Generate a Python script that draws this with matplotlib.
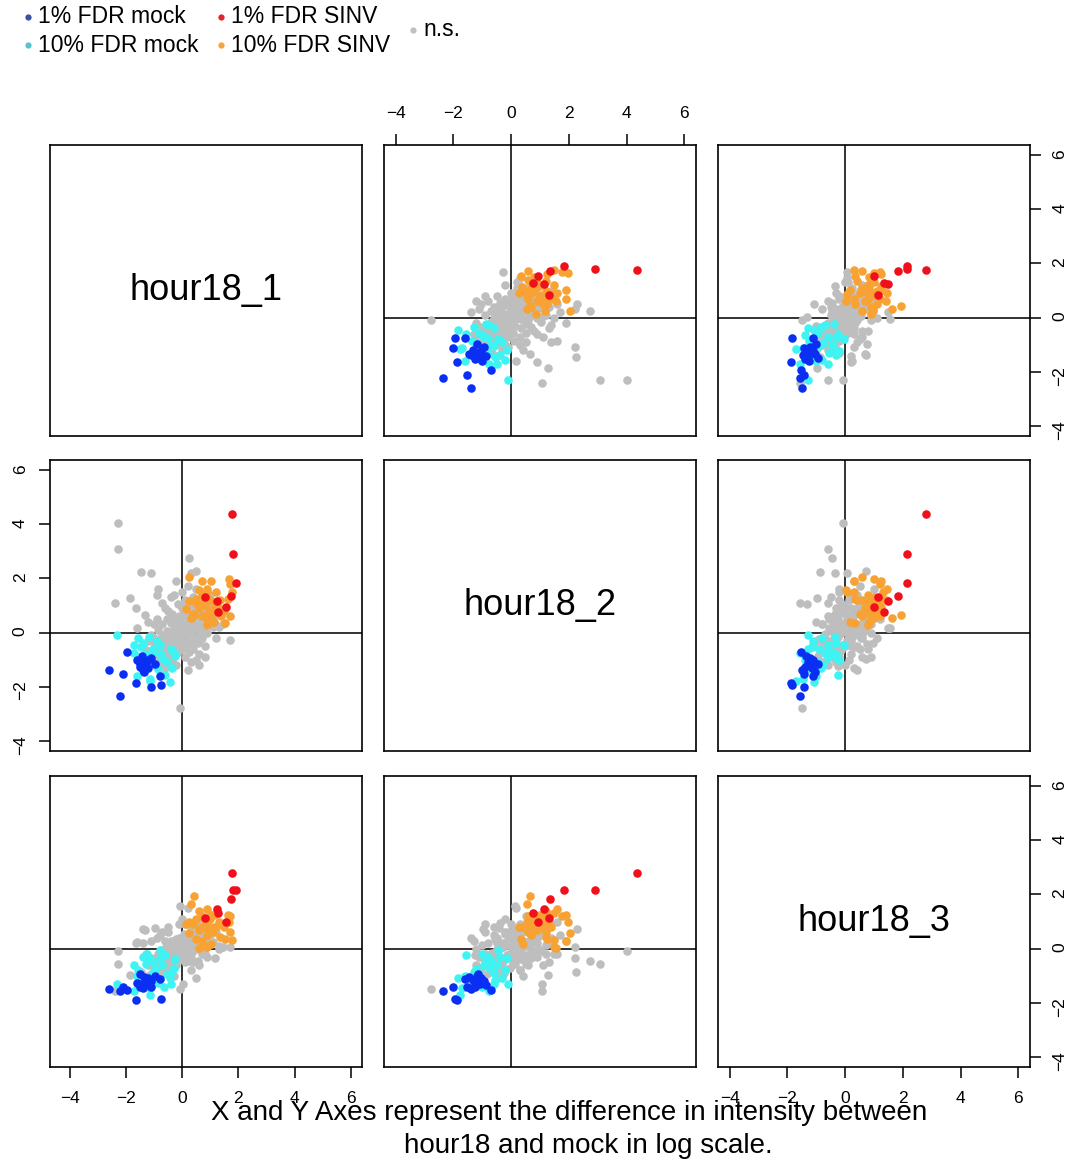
import matplotlib.pyplot as plt
from matplotlib.lines import Line2D

plt.rcParams['font.family'] = ['Liberation Sans', 'DejaVu Sans']

names = ['hour18_1', 'hour18_2', 'hour18_3']
ticks = [-4, -2, 0, 2, 4, 6]

# every point: (hour18_1, hour18_2, hour18_3), log difference to mock
ns = [
    (-1.10, -0.85, -0.95), (-0.95, -1.05, -0.70), (-0.90, -0.60, -0.85), (-0.85, -0.80, -0.55), (-0.80, -0.40, -0.75),
    (-0.75, -0.95, -0.40), (-0.70, -0.55, -0.65), (-0.65, -0.30, -0.50), (-0.60, -0.75, -0.30), (-0.55, -0.45, -0.60),
    (-0.50, -0.20, -0.35), (-0.45, -0.65, -0.15), (-0.40, -0.35, -0.45), (-0.35, -0.10, -0.25), (-0.30, -0.50, -0.05),
    (-0.25, -0.25, -0.35), (-0.20, 0.05, -0.15), (-0.15, -0.40, 0.05), (-0.10, -0.15, -0.25), (-0.05, 0.15, -0.05),
    (0.00, -0.30, 0.10), (0.05, 0.00, -0.15), (0.10, 0.25, 0.05), (0.15, -0.15, 0.25), (0.20, 0.10, -0.05),
    (0.25, 0.40, 0.15), (0.30, 0.00, 0.35), (0.35, 0.25, 0.05), (0.40, 0.55, 0.25), (0.45, 0.15, 0.45),
    (0.50, 0.40, 0.15), (0.55, 0.70, 0.35), (0.60, 0.30, 0.55), (0.65, 0.55, 0.25), (0.70, 0.85, 0.45),
    (0.75, 0.45, 0.65), (0.80, 0.70, 0.35), (0.85, 1.00, 0.55), (0.90, 0.60, 0.75), (1.00, 0.85, 0.50),
    (-1.20, -0.30, -0.60), (-1.00, -0.20, -0.40), (-0.85, 0.10, -0.30), (-0.70, 0.30, -0.20), (-0.55, 0.05, 0.10),
    (-0.40, 0.35, -0.05), (-0.25, 0.55, 0.10), (-0.10, 0.40, 0.25), (0.05, 0.65, 0.20), (0.20, 0.80, 0.30),
    (-0.60, -1.10, -0.90), (-0.45, -0.90, -0.60), (-0.30, -0.80, -0.45), (-0.15, -0.70, -0.20), (0.00, -0.60, -0.35),
    (0.15, -0.45, -0.10), (0.30, -0.35, 0.05), (0.45, -0.20, 0.20), (0.60, -0.05, 0.10), (0.75, 0.10, 0.30),
    (-0.95, -0.45, -1.10), (-0.75, -0.25, -0.90), (-0.50, -0.05, -0.70), (-0.30, 0.15, -0.55), (-0.05, 0.35, -0.40),
    (0.20, 0.50, -0.25), (0.40, 0.75, -0.10), (0.60, 0.95, 0.00), (-0.20, -0.55, 0.35), (0.05, -0.20, 0.55),
    (0.30, 0.10, 0.70), (0.50, 0.30, 0.90), (-0.45, -0.30, 0.20), (-0.65, -0.50, 0.00), (0.10, 0.05, -0.50),
    (-0.10, -0.05, 0.40), (0.35, 0.60, 0.60), (0.70, 0.20, -0.05), (-0.35, 0.70, -0.35), (-0.15, 1.05, -0.10),
    (0.10, 1.20, 0.15), (0.35, 0.95, 0.45), (-0.55, 0.50, -0.55), (0.90, 1.20, 0.80), (1.10, 0.55, 0.25),
    (-0.80, -1.25, -0.25), (-0.35, -1.00, 0.15), (0.25, -0.70, -0.20), (0.55, -0.40, -0.45), (-1.30, -0.65, -0.20),
    (0.60, -0.80, 0.20), (0.30, -1.10, -0.30), (0.80, -0.50, 0.40), (-0.20, -1.20, -0.60), (0.90, 0.00, 0.90),
    (1.10, 0.20, 0.60), (0.40, -0.60, 0.80), (-0.90, 0.50, -0.50), (-0.60, 0.90, -0.10), (-1.00, 0.30, -0.80),
    (-0.40, 1.30, 0.30), (-0.70, 1.10, -0.60), (0.00, 1.50, -0.20), (0.20, 1.70, 0.50), (-0.20, 1.90, 0.30),
    (-1.10, -0.10, 0.30), (-0.80, -0.60, 0.50), (-0.50, -0.90, 0.60), (0.10, -0.90, 0.90), (0.60, 0.60, -0.60),
    (0.90, 0.90, -0.30), (0.30, 0.30, -0.80), (-0.30, -0.30, -1.00), (-0.70, -0.10, 0.60), (0.70, 1.20, -0.20),
    (1.00, 1.40, 0.20), (0.50, 1.60, 1.00), (-0.50, 0.80, 0.80), (0.00, 0.90, 1.10), (0.60, -1.20, 0.00),
    (1.20, -0.20, 0.60), (0.80, -0.90, -0.20), (-1.20, 0.40, -1.00), (-0.90, 1.40, 0.40), (1.00, 0.50, 1.20),
    (-0.60, -1.30, 0.30), (0.20, -1.40, 0.40), (-1.40, -0.50, 0.20), (0.40, 1.30, -0.50), (-0.10, 0.60, 0.90),
    (1.30, 0.70, 0.00), (0.70, -0.20, 1.10),
    (-2.29, 4.03, -0.08), (-2.29, 3.07, -0.58), (0.24, 2.74, -0.46), (-1.45, 2.25, -0.87), (-1.10, 2.21, -0.35),
    (-0.86, 1.60, -0.20), (-2.40, 1.08, -1.56), (-1.86, 1.27, -0.98), (1.70, -0.28, 0.06), (-0.07, -2.78, -1.50),
    (-1.33, 0.66, 0.69), (-0.28, 1.37, 0.20), (-1.39, -0.96, 0.73), (-0.97, -0.43, 0.75), (-0.06, 0.15, 1.56),
    (1.46, 0.30, 0.05), (0.50, -1.03, -1.08), (0.04, 1.07, -1.31), (-1.63, 0.90, 0.20), (-1.60, 0.18, 0.23),
    (0.30, 2.21, 0.06), (0.50, 2.28, 0.72), (0.30, -0.39, 0.96), (0.20, 0.18, 1.50), (1.16, 0.30, -0.35),
    (1.30, 0.20, 0.10),
]

mock10 = [
    (-2.32, -0.10, -1.30), (-1.70, -0.47, -0.60), (-1.18, -0.15, -0.35), (-1.15, -1.78, -1.70), (-0.44, -1.82, -1.07),
    (-0.25, -0.86, -0.40), (-1.14, -1.70, -1.45), (-0.28, -0.75, -0.70), (-1.57, -0.20, -0.80), (-1.39, -0.40, -0.30),
    (-1.70, -0.75, -1.55), (-0.60, -1.55, -0.23), (-0.80, -0.45, -0.05), (-0.95, -1.20, -0.75), (-0.70, -0.95, -0.60),
    (-1.05, -0.60, -0.90), (-0.85, -1.35, -1.25), (-0.55, -1.10, -0.95), (-1.30, -0.80, -0.55), (-0.40, -0.60, -1.30),
    (-1.60, -1.60, -1.00), (-0.90, -0.30, -1.10), (-0.65, -1.00, -1.40), (-1.25, -1.00, -0.20), (-1.00, -0.70, -0.45),
    (-0.35, -1.30, -0.85), (-1.45, -0.55, -1.15), (-0.75, -0.80, -0.30),
]

sinv10 = [
    (0.25, 2.05, 0.58), (1.72, 0.60, 0.60), (1.53, 0.35, 0.35), (1.03, 1.91, 1.24), (0.70, 1.91, 0.30),
    (1.62, 1.24, 1.24), (1.66, 1.97, 1.00), (1.70, 1.78, 1.22), (1.13, 0.39, 0.81), (0.24, 1.17, 0.98),
    (0.15, 0.86, 0.91), (0.30, 0.55, 1.64), (0.43, 0.65, 1.94), (1.76, 1.50, 0.32), (0.87, 1.50, 0.05),
    (1.34, 1.20, 0.42), (0.89, 1.60, 1.45), (1.01, 0.40, 0.17), (0.60, 1.57, 0.03), (0.50, 1.23, 0.35),
    (0.90, 0.29, 0.79), (1.50, 0.81, 0.81), (0.80, 1.00, 0.90), (1.00, 0.80, 1.10), (0.60, 0.90, 0.70),
    (1.20, 1.10, 0.80), (0.90, 1.30, 1.00), (0.70, 0.60, 1.20), (1.10, 0.70, 0.60), (0.50, 1.10, 1.10),
    (1.30, 0.90, 1.00), (0.90, 0.70, 0.50), (0.70, 1.40, 0.80), (1.20, 1.50, 1.30), (0.40, 0.70, 0.90),
    (1.40, 0.60, 0.90), (1.00, 1.20, 0.60), (0.60, 1.20, 1.40), (1.15, 0.95, 1.25), (0.85, 0.55, 1.00),
]

mock1 = [
    (-0.75, -1.95, -1.85), (-0.77, -1.61, -1.12), (-1.12, -2.01, -1.43), (-1.63, -1.88, -1.89), (-2.22, -2.36, -1.55),
    (-2.10, -1.52, -1.43), (-2.60, -1.40, -1.49), (-1.95, -0.70, -1.53),
    (-1.21, -1.32, -1.15), (-1.45, -1.09, -1.30), (-1.43, -0.86, -1.35), (-1.51, -1.26, -1.40), (-1.23, -1.03, -1.10),
    (-0.96, -1.17, -1.00), (-1.39, -1.38, -1.45), (-1.60, -1.00, -1.25), (-1.30, -1.20, -1.30), (-1.10, -0.95, -1.20),
    (-1.35, -1.45, -1.05), (-1.50, -1.15, -0.95),
]

sinv1 = [
    (1.77, 4.37, 2.80), (1.80, 2.90, 2.16), (1.92, 1.82, 2.15), (1.73, 1.34, 1.82),
    (1.25, 1.15, 1.47), (1.28, 0.76, 1.33), (0.83, 1.30, 1.14), (1.55, 0.93, 1.00),
]

# drawing order as in the original: grey first, significant points on top
groups = [(ns, '#bebebe'), (mock10, '#3ff3f3'), (sinv10, '#f7a233'), (mock1, '#0a2ff2'), (sinv1, '#f0101c')]

fig = plt.figure(figsize=(10.71, 11.63), dpi=100)
lefts = [0.0467, 0.3585, 0.6704]
bottoms = [0.6251, 0.3543, 0.0825]
w, h = 0.2913, 0.2502
xlims = [(-4.7, 6.4), (-4.4, 6.4), (-4.4, 6.4)]
ylim = (-4.37, 6.37)

for i in range(3):
    for j in range(3):
        ax = fig.add_axes([lefts[j], bottoms[i], w, h])
        ax.set_xlim(xlims[j])
        ax.set_ylim(ylim)
        for s in ax.spines.values():
            s.set_linewidth(1.2)
        ax.set_xticks(ticks)
        ax.set_yticks(ticks)
        ax.tick_params(axis='both', bottom=False, top=False, left=False, right=False,
                       labelbottom=False, labeltop=False, labelleft=False, labelright=False,
                       length=8, width=1.1, labelsize=12.5)
        ax.tick_params(axis='x', pad=9)
        ax.tick_params(axis='y', pad=8, labelrotation=90)
        for lab in ax.get_yticklabels():
            lab.set_verticalalignment('center')

        if i == j:
            ax.text(0.5, 0.5, names[i], ha='center', va='center', fontsize=26, transform=ax.transAxes)
        else:
            ax.axhline(0, color='#222222', lw=1.3, zorder=1)
            ax.axvline(0, color='#222222', lw=1.3, zorder=1)
            for pts, col in groups:
                ax.scatter([p[j] for p in pts], [p[i] for p in pts], s=38, c=col, linewidths=0, zorder=3)

        # axes alternate round the matrix like R's pairs()
        if i == 0 and j == 1:
            ax.tick_params(axis='x', top=True, labeltop=True)
        if i == 2 and j in (0, 2):
            ax.tick_params(axis='x', bottom=True, labelbottom=True)
        if j == 0 and i == 1:
            ax.tick_params(axis='y', left=True, labelleft=True)
        if j == 2 and i in (0, 2):
            ax.tick_params(axis='y', right=True, labelright=True)

# legend across the top
leg_labels = ['1% FDR mock', '10% FDR mock', '1% FDR SINV', '10% FDR SINV', 'n.s.']
leg_colors = ['#3853a4', '#56c5cf', '#e3242b', '#f4a43a', '#c0c0c0']
leg_x = [28, 28, 221, 221, 413]
leg_y = [16.5, 45, 16.5, 45, 30]
W, H = 1071, 1163
for lab, col, lx, ly in zip(leg_labels, leg_colors, leg_x, leg_y):
    fig.add_artist(Line2D([lx / W], [1 - ly / H], marker='o', ms=4.5, color=col, mec='none',
                          linestyle='none', transform=fig.transFigure))
    fig.text((lx + 10) / W, 1 - ly / H, lab, ha='left', va='center', fontsize=16.5)

fig.text(0.5318, 0.0434, 'X and Y Axes represent the difference in intensity between',
         ha='center', va='center', fontsize=20)
fig.text(0.549, 0.0146, 'hour18 and mock in log scale.', ha='center', va='center', fontsize=20)

fig.savefig('out.png', dpi=100)
